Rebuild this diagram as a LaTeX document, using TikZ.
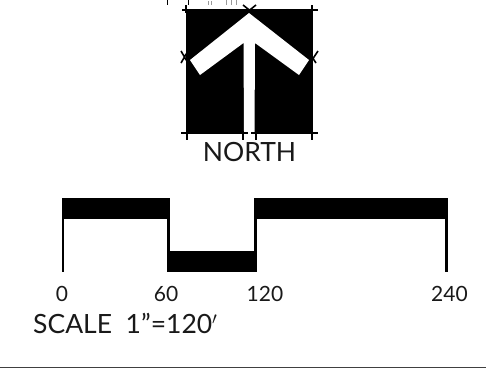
\documentclass[tikz,border=0pt]{standalone}
\usepackage{fontspec}
\setmainfont{Lato}
\tikzset{
  px/.style={x=1pt,y=-1pt},
  tick/.style={line width=1.6pt,black},
  bar/.style={fill=black,draw=none},
  leg/.style={line width=2.4pt,black},
  numlabel/.style={font=\fontsize{21}{23}\selectfont,inner sep=0pt,text=black!90},
  biglabel/.style={font=\fontsize{26.5}{28}\selectfont,inner sep=0pt,text=black!90}
}
\begin{document}
\begin{tikzpicture}[px]
\useasboundingbox (0,0) rectangle (486,368);
% north arrow
\fill[black] (186,9) rectangle (313,134);
\fill[white] (249,13) -- (309,60) -- (299,75) -- (255,43) -- (254.500,134) -- (244,134) -- (243.500,43) -- (200,75) -- (190,60) -- cycle;
\draw[tick] (182,10) -- (189,10) (186,5) -- (186,13);
\draw[tick] (310,10) -- (318,10) (312,5) -- (312,13);
\draw[tick] (243,5) -- (253,13) (256,5) -- (246,13);
\draw[tick] (181,51) -- (188,63) (188,51) -- (181,63);
\draw[tick] (310,63) -- (318,51) (310,54) -- (316,63);
\draw[tick] (181,133) -- (189,133) (187,131) -- (187,140);
\draw[tick] (241,133) -- (248,133) (243,131) -- (243,140);
\draw[tick] (251,133) -- (258,133) (256,131) -- (256,140);
\draw[tick] (309,133) -- (318,133) (312,131) -- (312,140);
% top fragments
\draw[black,line width=.8pt] (167,0) -- (167,5) (188,0) -- (188,5);
\draw[black!40,line width=.7pt] (208,1) -- (208,5) (211,1) -- (211,5) (226,0) -- (226,5) (231,0) -- (231,5) (236,0) -- (236,5);
\node[biglabel] (north) at (249.500,152) {NORTH};
% scale bar
\fill[bar] (62,198) rectangle (170,219);
\fill[bar] (254,198) rectangle (448,219);
\fill[bar] (168,251) rectangle (256,272);
\draw[leg] (63,219) -- (63,272);
\draw[leg] (168.500,219) -- (168.500,272);
\draw[leg] (255.500,219) -- (255.500,272);
\draw[leg] (446.500,219) -- (446.500,272);
\node[numlabel] (l0) at (62,294) {0};
\node[numlabel] (l60) at (166,294) {60};
\node[numlabel] (l120) at (265,294) {120};
\node[numlabel] (l240) at (449.500,294) {240};
\node[biglabel,anchor=west] (scale) at (33,323) {SCALE\ \ 1"=120$'$};
\draw[black!75,line width=1pt] (0,367) -- (486,367);
\end{tikzpicture}
\end{document}
